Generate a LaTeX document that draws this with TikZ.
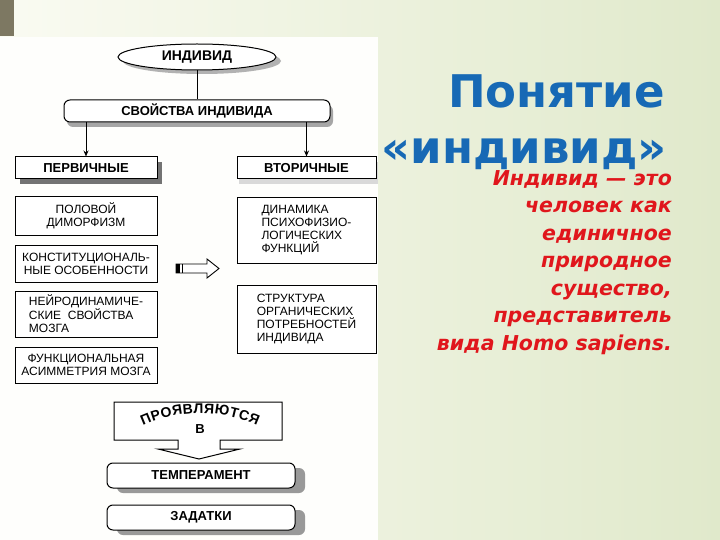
\documentclass[tikz,border=0pt]{standalone}
\usepackage{fontspec}
\setmainfont{Liberation Sans}
\newfontfamily\titlefont{DejaVu Sans}
\usetikzlibrary{shapes.geometric, shadows, decorations.text, arrows.meta}

\definecolor{titleblue}{HTML}{1769B5}
\definecolor{notered}{HTML}{E0161C}
\definecolor{olive}{HTML}{7D7862}
\definecolor{bgleft}{HTML}{FAFBF2}
\definecolor{bgright}{HTML}{E0E9CB}
\definecolor{paper}{HTML}{FEFEFC}

\tikzset{
  box/.style={draw, line width=1pt, fill=white, minimum height=22, inner sep=2pt, font=\fontsize{12}{13}\selectfont},
  hbox/.style={box, font=\bfseries\fontsize{13}{14}\selectfont},
  leftbox/.style={box, minimum width=142},
  rightbox/.style={box, minimum width=139},
  lowbox/.style={hbox, rounded corners=6, minimum width=188, minimum height=25,
    drop shadow={shadow xshift=10pt, shadow yshift=-5pt, fill=black!40, opacity=1}},
}

\begin{document}
\begin{tikzpicture}[x=1pt, y=-1pt]
\useasboundingbox (0,0) rectangle (720,540);
\shade[left color=bgleft, right color=bgright] (0,0) rectangle (720,540);
\fill[olive] (0,0) rectangle (14,36);
\fill[paper] (0,37) rectangle (378,540);

% top of the scheme
\node[ellipse, draw, line width=1pt, fill=white, minimum width=158, minimum height=26, inner sep=0,
  font=\bfseries\fontsize{14}{14}\selectfont,
  drop shadow={shadow xshift=5pt, shadow yshift=-4pt, fill=black!30, opacity=1}] (indiv) at (197,57) {ИНДИВИД};
\node[hbox, rounded corners=6, minimum width=266,
  drop shadow={shadow xshift=3pt, shadow yshift=-5pt, fill=black!35, opacity=1}] (svoi) at (197,111) {СВОЙСТВА ИНДИВИДА};
\node[hbox, minimum width=142,
  drop shadow={shadow xshift=5pt, shadow yshift=-5pt, fill=black!55, opacity=1}] (perv) at (86,168) {ПЕРВИЧНЫЕ};
\node[hbox, minimum width=139,
  drop shadow={shadow xshift=2pt, shadow yshift=-5pt, fill=black!15, opacity=1}] (vtor) at (306.5,168) {ВТОРИЧНЫЕ};

\draw[line width=1pt] (indiv) -- (svoi);
\draw[line width=1pt, -{Stealth[length=6pt, width=5pt]}] (svoi.south -| perv) -- (perv);
\draw[line width=1pt, -{Stealth[length=6pt, width=5pt]}] (svoi.south -| vtor) -- (vtor);

% primary
\node[leftbox, minimum height=38, align=center] (polov) at (86,216) {ПОЛОВОЙ\\ДИМОРФИЗМ};
\node[leftbox, minimum height=37, align=center] (konst) at (86,263.5) {КОНСТИТУЦИОНАЛЬ-\\НЫЕ ОСОБЕННОСТИ};
\node[leftbox, minimum height=46, align=left] (neiro) at (86,314) {НЕЙРОДИНАМИЧЕ-\\СКИЕ\ \ СВОЙСТВА\\МОЗГА};
\node[leftbox, minimum height=36, align=center] (funk) at (86,365) {ФУНКЦИОНАЛЬНАЯ\\АСИММЕТРИЯ МОЗГА};

% secondary
\node[rightbox, minimum height=65, align=left] (dinam) at (306.5,230.5) {ДИНАМИКА\\ПСИХОФИЗИО-\\ЛОГИЧЕСКИХ\\ФУНКЦИЙ};
\node[rightbox, minimum height=68, align=left] (strukt) at (306.5,319) {СТРУКТУРА\\ОРГАНИЧЕСКИХ\\ПОТРЕБНОСТЕЙ\\ИНДИВИДА};

% hollow arrow
\draw[line width=0.9pt, fill=white] (176,264) -- (207,264) -- (207,259) -- (219,268.5) -- (207,278) -- (207,273) -- (176,273) -- cycle;
\fill (176,264) rectangle (180,273);
\draw[line width=0.8pt] (182,264) -- (182,273);

% banner
\draw[line width=1pt, fill=white] (114,402) -- (282,402) -- (282,440) -- (220,440) -- (220,449) -- (240,449)
  -- (199,459) -- (158,449) -- (178,449) -- (178,440) -- (114,440) -- cycle;
\path[decorate, decoration={text along path, text align=center,
  text={|\bfseries\fontsize{14}{14}\selectfont|П{\kern0.4pt}Р{\kern0.4pt}О{\kern0.4pt}Я{\kern0.4pt}В{\kern0.4pt}Л{\kern0.4pt}Я{\kern0.4pt}Ю{\kern0.4pt}Т{\kern0.4pt}С{\kern0.4pt}Я}}]
  (136,429) .. controls (175,408) and (225,408) .. (264,429);
\node[font=\bfseries\fontsize{13}{13}\selectfont] (vlab) at (200,429) {В};

\node[lowbox] (temp) at (201,475.5) {ТЕМПЕРАМЕНТ};
\node[lowbox] (zadat) at (201,517.5) {ЗАДАТКИ};

% title and definition
\node[anchor=base east, inner sep=0, text=titleblue, font=\titlefont\bfseries\fontsize{45}{45}\selectfont] (title1) at (665,108) {Понятие};
\node[anchor=base east, inner sep=0, text=titleblue, font=\titlefont\bfseries\fontsize{45}{45}\selectfont] (title2) at (667,164) {«индивид»};
\node[anchor=north east, inner sep=0, align=right, text=notered,
  font=\titlefont\bfseries\itshape\fontsize{20.5}{27.5}\selectfont] (defn) at (672,170)
  {Индивид — это\\человек как\\единичное\\природное\\существо,\\представитель\\вида Homo sapiens.};
\end{tikzpicture}
\end{document}
